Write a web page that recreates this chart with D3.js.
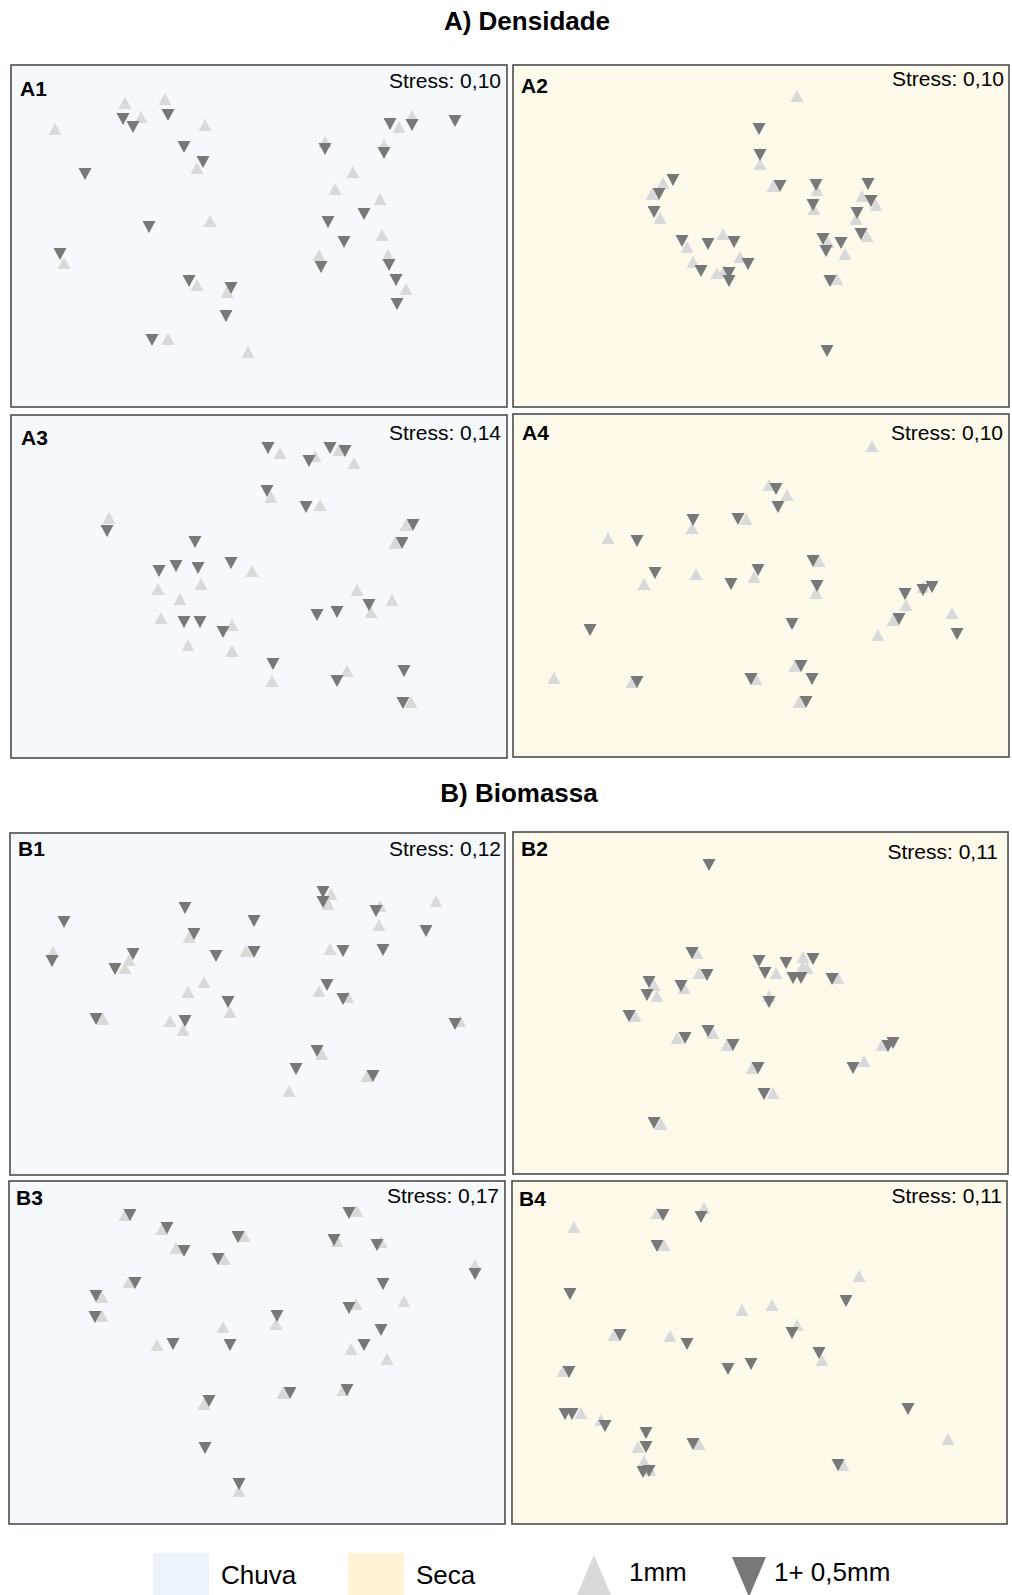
<!DOCTYPE html>
<html>
<head>
<meta charset="utf-8">
<script src="https://cdn.jsdelivr.net/npm/d3@7"></script>
<style>
  html, body { margin: 0; padding: 0; background: #ffffff; }
  svg { display: block; font-family: "Liberation Sans", Arial, sans-serif; }
</style>
</head>
<body>
<svg id="chart" width="1012" height="1595"></svg>
<script>
// ---- NMDS ordinations: [NMDS1, NMDS2] per sample ----
const panelIds = ["A1", "A2", "A3", "A4", "B1", "B2", "B3", "B4"];
const stressValues = [0.10, 0.10, 0.14, 0.10, 0.12, 0.11, 0.17, 0.11];
const panelSeason = ["Chuva", "Seca", "Chuva", "Seca", "Chuva", "Seca", "Chuva", "Seca"];
const sectionTitles = ["A) Densidade", "B) Biomassa"];
const seasonLabels = ["Chuva", "Seca"];
const meshLabels = ["1mm", "1+ 0,5mm"];

// 1 mm mesh (up triangles) and 1 + 0,5 mm mesh (down triangles)
const A1_1mm = [[-1.33,1.34],[-0.93,1.38],[-1.17,1.20],[-2.03,1.08],[-0.53,1.12],[-0.61,0.69],[-0.48,0.16],[-1.94,-0.26],[-0.61,-0.48],[-0.31,-0.55],[-0.90,-1.02],[-0.10,-1.15],[0.67,0.95],[1.54,1.21],[1.41,1.10],[1.26,0.92],[0.95,0.65],[0.77,0.48],[1.22,0.38],[1.24,0.02],[0.61,-0.18],[1.30,-0.18],[1.48,-0.52]];
const A1_05mm = [[-1.35,1.18],[-1.25,1.10],[-0.90,1.22],[-1.73,0.63],[-0.74,0.90],[-0.55,0.75],[-1.09,0.10],[-1.98,-0.17],[-0.69,-0.44],[-0.27,-0.51],[-0.32,-0.79],[-1.06,-1.03],[1.32,1.13],[1.54,1.12],[1.97,1.16],[0.67,0.88],[1.26,0.84],[0.70,0.15],[1.06,0.23],[0.86,-0.05],[0.63,-0.30],[1.31,-0.28],[1.38,-0.43],[1.39,-0.67]];

const A2_1mm = [[0.37,1.41],[0.00,0.73],[0.13,0.51],[-0.97,0.54],[-1.08,0.43],[-1.00,0.19],[-0.37,0.03],[-0.73,-0.10],[-0.20,-0.20],[-0.67,-0.25],[-0.43,-0.36],[-0.36,-0.34],[0.57,0.47],[0.54,0.28],[1.02,0.41],[1.16,0.32],[0.96,0.18],[1.07,0.01],[0.68,-0.05],[0.85,-0.17],[0.77,-0.42]];
const A2_05mm = [[-0.01,1.08],[0.00,0.82],[0.20,0.51],[-0.87,0.57],[-1.01,0.43],[-1.06,0.25],[-0.78,-0.04],[-0.52,-0.07],[-0.26,-0.05],[-0.12,-0.27],[-0.59,-0.34],[-0.31,-0.36],[-0.31,-0.44],[0.56,0.52],[0.53,0.32],[1.08,0.53],[1.11,0.36],[0.97,0.24],[1.01,0.03],[0.63,-0.02],[0.81,-0.06],[0.66,-0.14],[0.70,-0.44],[0.67,-1.14]];

const A3_1mm = [[-1.49,0.65],[0.22,1.30],[0.57,1.27],[0.81,1.33],[0.96,1.20],[0.13,0.86],[0.62,0.78],[1.48,0.58],[1.37,0.40],[-0.06,0.12],[-1.00,-0.06],[-0.57,-0.01],[-0.78,-0.16],[-0.97,-0.35],[-0.26,-0.42],[-0.70,-0.62],[-0.26,-0.68],[0.99,-0.07],[1.34,-0.17],[1.13,-0.29],[0.14,-0.98],[0.89,-0.88],[1.53,-1.19]];
const A3_05mm = [[-1.51,0.52],[0.10,1.35],[0.51,1.22],[0.72,1.35],[0.87,1.32],[0.09,0.92],[0.48,0.76],[1.55,0.58],[1.44,0.40],[-0.63,0.41],[-0.99,0.12],[-0.82,0.17],[-0.60,0.15],[-0.27,0.20],[-0.74,-0.39],[-0.58,-0.39],[-0.35,-0.49],[0.15,-0.81],[0.59,-0.32],[0.79,-0.29],[1.11,-0.22],[0.79,-0.98],[1.46,-0.88],[1.45,-1.20]];

const A4_1mm = [[1.12,1.37],[0.09,0.98],[0.27,0.88],[-0.14,0.64],[-0.68,0.55],[-1.52,0.45],[-0.64,0.09],[-1.16,-0.01],[-0.06,0.06],[0.59,0.22],[0.56,-0.10],[1.63,-0.04],[1.46,-0.22],[1.33,-0.37],[1.18,-0.52],[1.92,-0.30],[-2.06,-0.95],[-1.28,-0.99],[-0.04,-0.96],[0.35,-0.83],[0.39,-1.19]];
const A4_05mm = [[0.16,0.94],[0.18,0.76],[-0.22,0.64],[-0.67,0.63],[-1.23,0.42],[-1.05,0.10],[-0.29,-0.01],[-0.02,0.13],[0.53,0.22],[0.57,-0.03],[1.45,-0.11],[1.63,-0.07],[1.72,-0.04],[1.39,-0.36],[0.32,-0.41],[1.97,-0.51],[-1.70,-0.47],[-1.23,-0.99],[-0.09,-0.96],[0.41,-0.83],[0.52,-0.96],[0.46,-1.19]];

const B1_1mm = [[-2.05,0.51],[-1.33,0.35],[-1.29,0.43],[-0.69,0.66],[-0.54,0.21],[-0.70,0.11],[-0.12,0.52],[-1.55,-0.16],[-0.88,-0.18],[-0.75,-0.27],[-0.28,-0.09],[0.73,1.09],[0.70,0.99],[1.22,0.97],[1.21,0.78],[1.78,1.02],[0.72,0.54],[0.61,0.12],[0.90,0.06],[2.02,-0.18],[0.64,-0.51],[0.31,-0.88],[1.09,-0.73]];
const B1_05mm = [[-1.94,0.81],[-2.06,0.42],[-1.25,0.49],[-1.43,0.34],[-0.73,0.95],[-0.64,0.69],[-0.04,0.82],[-0.04,0.51],[-0.42,0.47],[-0.30,0.01],[-1.62,-0.16],[-0.73,-0.18],[0.65,1.11],[0.65,1.01],[1.18,0.92],[1.68,0.72],[0.85,0.52],[1.25,0.53],[0.69,0.18],[0.85,0.04],[1.97,-0.21],[0.59,-0.48],[0.38,-0.66],[1.15,-0.73]];

const B2_1mm = [[-0.63,0.50],[-0.61,0.30],[-1.06,0.18],[-1.03,0.07],[-0.76,0.15],[-1.25,-0.13],[-0.83,-0.35],[-0.47,-0.30],[-0.33,-0.42],[-0.08,-0.65],[0.13,-0.90],[-0.99,-1.21],[0.16,0.30],[0.43,0.46],[0.43,0.37],[0.47,0.35],[0.09,0.07],[0.78,0.25],[1.04,-0.58],[1.22,-0.42]];
const B2_05mm = [[-0.51,1.38],[-0.68,0.50],[-0.53,0.28],[-1.11,0.21],[-1.13,0.08],[-0.79,0.17],[-1.31,-0.13],[-0.75,-0.35],[-0.52,-0.28],[-0.27,-0.42],[-0.02,-0.65],[0.04,-0.91],[-1.06,-1.20],[-0.01,0.42],[0.05,0.30],[0.26,0.40],[0.53,0.44],[0.33,0.25],[0.41,0.25],[0.72,0.24],[0.09,0.01],[0.93,-0.65],[1.28,-0.43],[1.33,-0.40]];

const B3_1mm = [[-1.33,1.32],[-0.96,1.18],[-0.82,0.99],[-0.14,1.11],[-0.34,0.88],[-1.29,0.65],[-1.56,0.50],[-1.56,0.31],[-0.35,0.20],[-1.01,0.02],[0.18,0.23],[-0.54,-0.57],[0.25,-0.46],[-0.19,-1.44],[0.99,1.36],[0.79,1.06],[1.23,1.05],[2.17,0.82],[0.98,0.43],[1.46,0.46],[0.93,-0.02],[1.29,-0.12],[0.85,-0.43]];
const B3_05mm = [[-1.28,1.32],[-0.91,1.19],[-0.74,0.96],[-0.20,1.10],[-0.40,0.88],[-1.23,0.64],[-1.62,0.51],[-1.63,0.30],[-0.85,0.03],[-0.28,0.02],[0.19,0.31],[-0.49,-0.54],[0.32,-0.46],[-0.53,-1.01],[-0.19,-1.37],[0.91,1.34],[0.76,1.07],[1.19,1.02],[2.17,0.73],[1.25,0.63],[0.91,0.39],[1.23,0.17],[1.06,0.02],[0.89,-0.43]];

const B4_1mm = [[-1.03,1.34],[-0.56,1.39],[-1.86,1.20],[-0.96,1.02],[0.99,0.71],[-0.18,0.37],[0.12,0.42],[0.37,0.22],[-1.46,0.12],[-0.90,0.11],[0.62,-0.13],[-1.97,-0.24],[-1.79,-0.66],[-1.59,-0.73],[-1.22,-1.00],[-1.16,-1.14],[-1.10,-1.23],[-0.61,-0.97],[0.83,-1.18],[1.88,-0.92]];
const B4_05mm = [[-0.97,1.32],[-0.59,1.30],[-1.03,1.01],[-1.90,0.53],[0.86,0.46],[-1.40,0.12],[-0.73,0.03],[0.32,0.14],[0.59,-0.06],[-0.32,-0.22],[-0.09,-0.17],[-1.91,-0.25],[-1.95,-0.67],[-1.88,-0.67],[-1.55,-0.79],[-1.14,-0.86],[-1.14,-1.00],[-1.17,-1.25],[-1.11,-1.24],[-0.67,-0.97],[0.78,-1.18],[1.48,-0.62]];

const series1mm = [A1_1mm, A2_1mm, A3_1mm, A4_1mm, B1_1mm, B2_1mm, B3_1mm, B4_1mm];
const series05mm = [A1_05mm, A2_05mm, A3_05mm, A4_05mm, B1_05mm, B2_05mm, B3_05mm, B4_05mm];

// ---- layout: panel frames (px), visible NMDS window, label offsets ----
const panelLayout = [
  { x0: 11,  y0: 65,   x1: 507,  y1: 407,  xd: [-2.47, 2.49], yd: [-1.70, 1.72], lab: [9, 31], str: [6, 23] },
  { x0: 513, y0: 65,   x1: 1009, y1: 407,  xd: [-2.47, 2.49], yd: [-1.70, 1.72], lab: [8, 28], str: [5, 21] },
  { x0: 11,  y0: 415,  x1: 507,  y1: 758,  xd: [-2.47, 2.49], yd: [-1.75, 1.68], lab: [10, 30], str: [6, 25] },
  { x0: 513, y0: 414,  x1: 1009, y1: 757,  xd: [-2.47, 2.49], yd: [-1.74, 1.69], lab: [9, 26], str: [6, 26] },
  { x0: 10,  y0: 833,  x1: 505,  y1: 1175, xd: [-2.48, 2.47], yd: [-1.72, 1.70], lab: [8, 23], str: [4, 23] },
  { x0: 513, y0: 832,  x1: 1008, y1: 1174, xd: [-2.47, 2.48], yd: [-1.71, 1.71], lab: [8, 24], str: [10, 27] },
  { x0: 9,   y0: 1181, x1: 505,  y1: 1524, xd: [-2.49, 2.47], yd: [-1.77, 1.66], lab: [7, 24], str: [6, 22] },
  { x0: 512, y0: 1181, x1: 1007, y1: 1524, xd: [-2.48, 2.47], yd: [-1.77, 1.66], lab: [7, 25], str: [5, 22] }
];

const colors = {
  panelBg: { Chuva: "#f5f9fd", Seca: "#fef9eb" },
  legendBg: { Chuva: "#edf3fb", Seca: "#fdf3d4" },
  frame: "#4d4d4d",
  mark1mm: "#d9d9d9",
  mark05mm: "#787878"
};

const upPath = "M0,-6L6.5,6L-6.5,6Z";
const downPath = "M0,6L6.5,-6L-6.5,-6Z";

const ptBR = d3.formatLocale({ decimal: ",", thousands: ".", grouping: [3], currency: ["R$", ""] });
const fmtStress = ptBR.format(".2f");

const svg = d3.select("#chart");
svg.append("rect").attr("width", 1012).attr("height", 1595).attr("fill", "#ffffff");

// section titles
svg.selectAll("text.section")
  .data(sectionTitles)
  .join("text")
  .attr("class", "section")
  .attr("x", (d, i) => i === 0 ? 527 : 519)
  .attr("y", (d, i) => i === 0 ? 30 : 802)
  .attr("text-anchor", "middle")
  .attr("font-size", 26)
  .attr("font-weight", "bold")
  .attr("fill", "#000")
  .text(d => d);

// panels
panelIds.forEach((id, i) => {
  const L = panelLayout[i];
  const x = d3.scaleLinear().domain(L.xd).range([L.x0, L.x1]);
  const y = d3.scaleLinear().domain(L.yd).range([L.y1, L.y0]);
  const g = svg.append("g").attr("class", "panel panel-" + id);

  g.append("rect")
    .attr("x", L.x0).attr("y", L.y0)
    .attr("width", L.x1 - L.x0).attr("height", L.y1 - L.y0)
    .attr("fill", colors.panelBg[panelSeason[i]])
    .attr("stroke", colors.frame)
    .attr("stroke-width", 1.6);

  g.append("g").selectAll("path")
    .data(series1mm[i])
    .join("path")
    .attr("d", upPath)
    .attr("transform", d => `translate(${x(d[0])},${y(d[1])})`)
    .attr("fill", colors.mark1mm);

  g.append("g").selectAll("path")
    .data(series05mm[i])
    .join("path")
    .attr("d", downPath)
    .attr("transform", d => `translate(${x(d[0])},${y(d[1])})`)
    .attr("fill", colors.mark05mm);

  g.append("text")
    .attr("x", L.x0 + L.lab[0]).attr("y", L.y0 + L.lab[1])
    .attr("font-size", 21).attr("font-weight", "bold").attr("fill", "#000")
    .text(id);

  g.append("text")
    .attr("x", L.x1 - L.str[0]).attr("y", L.y0 + L.str[1])
    .attr("text-anchor", "end")
    .attr("font-size", 21).attr("fill", "#000")
    .text("Stress: " + fmtStress(stressValues[i]));
});

// legend
const legend = svg.append("g").attr("class", "legend");
const seasonX = [153, 348];
seasonLabels.forEach((s, i) => {
  legend.append("rect")
    .attr("x", seasonX[i]).attr("y", 1553)
    .attr("width", 56).attr("height", 42)
    .attr("fill", colors.legendBg[s]);
  legend.append("text")
    .attr("x", seasonX[i] + 68).attr("y", 1584)
    .attr("font-size", 26).attr("fill", "#000")
    .text(s);
});
legend.append("path")
  .attr("d", "M594,1555L611,1595L577,1595Z")
  .attr("fill", colors.mark1mm);
legend.append("text")
  .attr("x", 629).attr("y", 1581)
  .attr("font-size", 26).attr("fill", "#000")
  .text(meshLabels[0]);
legend.append("path")
  .attr("d", "M732,1557L766,1557L749,1597Z")
  .attr("fill", colors.mark05mm);
legend.append("text")
  .attr("x", 774).attr("y", 1581)
  .attr("font-size", 26).attr("fill", "#000")
  .text(meshLabels[1]);
</script>
</body>
</html>
